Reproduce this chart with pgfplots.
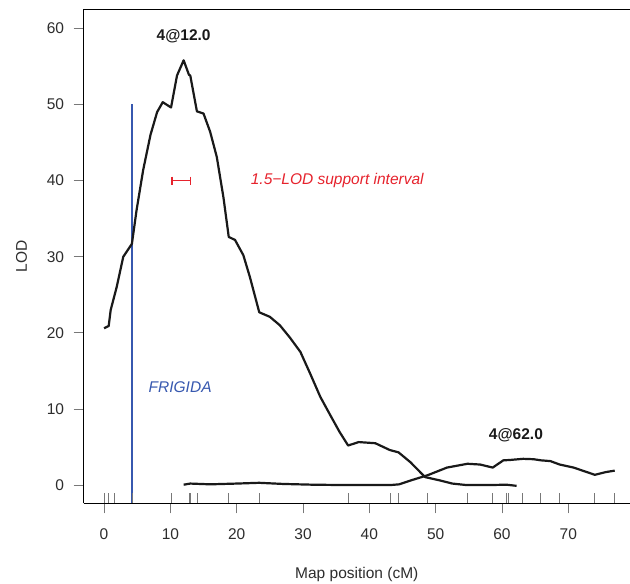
\documentclass[border=0pt]{standalone}
\usepackage{fontspec}
\setmainfont{Liberation Sans}
\usepackage{pgfplots}
\pgfplotsset{compat=1.18}

\definecolor{curve}{RGB}{25,25,25}
\definecolor{frig}{RGB}{55,88,175}
\definecolor{supp}{RGB}{230,35,45}
\definecolor{tickgray}{RGB}{120,120,120}
\definecolor{txt}{RGB}{45,45,45}

\begin{document}
\begin{tikzpicture}
\begin{axis}[
    scale only axis,
    width=546.2pt, height=493.9pt,
    xmin=-3.08, xmax=79.3,
    ymin=-2.4, ymax=62.5,
    axis y line*=left,
    axis line style={black, line width=0.9pt},
    xtick={0,10,...,70}, ytick={0,10,...,60},
    xtick pos=bottom, ytick pos=left,
    tick align=outside,
    major tick length=10pt,
    tick style={tickgray, line width=0.9pt},
    /pgf/number format/assume math mode=true,
    tick label style={font=\fontsize{15.5}{17}\selectfont, text=txt},
    xticklabel style={yshift=-12pt},
    yticklabel style={xshift=-6pt},
    xlabel={Map position (cM)},
    ylabel={LOD},
    label style={font=\fontsize{15.5}{17}\selectfont, text=txt},
    xlabel style={yshift=-21pt},
    ylabel style={yshift=13pt},
    clip=true,
]
% FRIGIDA position
\addplot[frig, line width=1.2pt] coordinates {(4.2,-2.4) (4.2,50)};

% LOD profile, QTL at 12 cM
\addplot[curve, line width=2.2pt, line join=round] coordinates {
(0,20.6) (0.7,20.9) (1.0,23.0) (1.9,26.0) (2.9,30.0) (3.9,31.3) (4.2,31.7)
(4.9,36.1) (5.9,41.4) (7.0,46.0) (8.0,49.0) (8.85,50.3) (10.1,49.6)
(11.0,53.8) (12.0,55.8) (12.8,53.9) (13.0,53.8) (14.0,49.1) (15.0,48.8)
(16.0,46.4) (17.0,43.1) (18.0,37.8) (18.8,32.6) (19.75,32.2) (21.0,30.2)
(22.0,27.3) (23.4,22.7) (25.0,22.1) (26.5,21.0) (28.0,19.4) (29.6,17.5)
(31.1,14.6) (32.6,11.6) (34.1,9.2) (35.5,7.0) (36.8,5.2) (38.4,5.65)
(40.9,5.5) (43.1,4.6) (44.4,4.3) (46.2,3.0) (48.4,1.05) (50.7,0.6)
(52.5,0.2) (54.7,0.0) (57.7,0.0) (60.7,0.05) (62.2,-0.1)
};

% LOD profile, QTL at 62 cM
\addplot[curve, line width=2.2pt, line join=round] coordinates {
(12.0,0.05) (13.0,0.2) (16,0.1) (20,0.2) (23.4,0.3) (27,0.15) (31.5,0.05)
(36.8,0.0) (43.1,0.0) (44.5,0.1) (46.2,0.6) (48.8,1.3) (51.7,2.3)
(54.8,2.8) (56.7,2.7) (58.6,2.3) (60.2,3.25) (61.2,3.3) (63.2,3.45)
(64.75,3.4) (65.9,3.25) (67.3,3.15) (68.7,2.7) (70.8,2.3) (74.0,1.35)
(75.6,1.7) (77.0,1.9)
};

% 1.5-LOD support interval
\addplot[supp, line width=1.1pt, mark=|, mark size=4pt, mark options={line width=1.1pt}] coordinates {(10.25,40) (13.0,40)};

% marker rug
\addplot[only marks, mark=|, mark size=5pt, tickgray, mark options={line width=0.8pt}] coordinates {
(0,-1.74) (0.7,-1.74) (1.5,-1.74) (4.2,-1.74) (10.1,-1.74) (12.8,-1.74)
(13.0,-1.74) (14.0,-1.74) (18.8,-1.74) (23.4,-1.74) (36.8,-1.74)
(43.1,-1.74) (44.4,-1.74) (48.8,-1.74) (54.8,-1.74) (58.6,-1.74)
(60.6,-1.74) (60.9,-1.74) (63.1,-1.74) (65.8,-1.74) (68.6,-1.74)
(74.0,-1.74) (77.0,-1.74)
};

\node[font=\fontsize{15.5}{17}\selectfont\bfseries, text=curve] at (axis cs:12.0,59.0) {4@12.0};
\node[font=\fontsize{15.5}{17}\selectfont\bfseries, text=curve] at (axis cs:62.1,6.5) {4@62.0};
\node[font=\fontsize{15.5}{17}\selectfont\itshape, text=supp, anchor=west] at (axis cs:21.6,40) {1.5−LOD support interval};
\node[font=\fontsize{15.5}{17}\selectfont\itshape, text=frig, anchor=west] at (axis cs:6.2,12.8) {FRIGIDA};
\end{axis}
\pgfresetboundingbox
\path ([shift={(-83.6pt,-80.3pt)}]current axis.south west) rectangle ([shift={(0pt,9.3pt)}]current axis.north east);
\end{tikzpicture}
\end{document}
